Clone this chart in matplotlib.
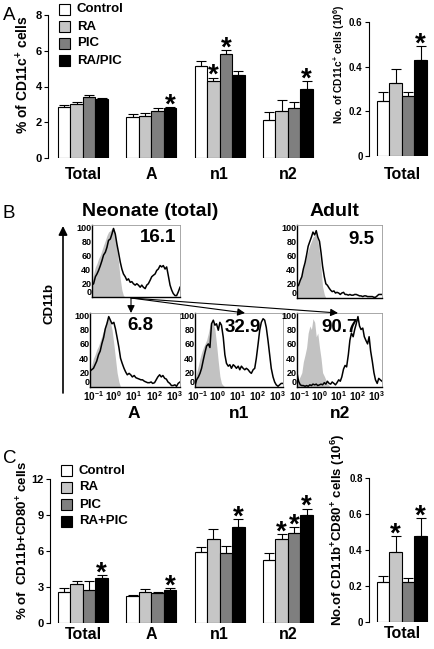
import matplotlib
matplotlib.use('Agg')
import matplotlib.pyplot as plt
from matplotlib.patches import Rectangle, FancyArrowPatch
import numpy as np

W, H = 435, 649
plt.rcParams['font.family'] = ['Liberation Sans', 'DejaVu Sans']
plt.rcParams['font.weight'] = 'bold'
plt.rcParams['mathtext.fontset'] = 'custom'
for k in ('rm', 'it', 'bf', 'sf'):
    plt.rcParams['mathtext.' + k] = 'Liberation Sans:bold'
plt.rcParams['axes.linewidth'] = 0.8

# ---------------- data ----------------
groups = ['Total', 'A', 'n1', 'n2']
treat_A = ['Control', 'RA', 'PIC', 'RA/PIC']
treat_C = ['Control', 'RA', 'PIC', 'RA+PIC']
bar_colors = ['#ffffff', '#c6c6c6', '#7f7f7f', '#000000']

# Panel A (left): % of CD11c+ cells
a_control = [2.88, 2.29, 5.12, 2.14]
a_ra = [3.03, 2.36, 4.28, 2.64]
a_pic = [3.44, 2.64, 5.80, 2.79]
a_rapic = [3.29, 2.79, 4.65, 3.85]
a_control_err = [0.10, 0.17, 0.28, 0.45]
a_ra_err = [0.10, 0.15, 0.22, 0.62]
a_pic_err = [0.09, 0.15, 0.25, 0.37]
a_rapic_err = [0.06, 0.06, 0.22, 0.48]
a_sig = [(1, 3), (2, 1), (2, 2), (3, 3)]   # (group, treatment)

# Panel A (right): No. of CD11c+ cells (10^6)
a_num = [0.245, 0.327, 0.268, 0.43]
a_num_err = [0.041, 0.061, 0.017, 0.063]
a_num_sig = [3]

# Panel C (left): % of CD11b+CD80+ cells
c_control = [2.58, 2.26, 5.89, 5.25]
c_ra = [3.28, 2.60, 7.00, 7.00]
c_pic = [2.72, 2.54, 5.80, 7.48]
c_rapic = [3.75, 2.79, 8.04, 8.99]
c_control_err = [0.34, 0.11, 0.47, 0.55]
c_ra_err = [0.20, 0.20, 0.80, 0.42]
c_pic_err = [0.80, 0.06, 0.62, 0.50]
c_rapic_err = [0.28, 0.14, 0.61, 0.55]
c_sig = [(0, 3), (1, 3), (2, 3), (3, 1), (3, 2), (3, 3)]

# Panel C (right): No. of CD11b+CD80+ cells (10^6)
c_num = [0.225, 0.39, 0.22, 0.477]
c_num_err = [0.031, 0.087, 0.023, 0.103]
c_num_sig = [1, 3]

# Panel B: CD11b histograms (x = log10 fluorescence, y = % of max)
hist_x = [-1.15, -1.07, -0.98, -0.90, -0.82, -0.73, -0.65, -0.57, -0.48, -0.40,
          -0.32, -0.23, -0.15, -0.07, 0.02, 0.10, 0.18, 0.27, 0.35, 0.43,
          0.52, 0.60, 0.68, 0.77, 0.85, 0.93, 1.02, 1.10, 1.18, 1.27,
          1.35, 1.43, 1.52, 1.60, 1.68, 1.77, 1.85, 1.93, 2.02, 2.10,
          2.18, 2.27, 2.35, 2.43, 2.52, 2.60, 2.68, 2.77, 2.85, 2.93,
          3.02, 3.10, 3.18, 3.27]
tick_decades = [-1, 0, 1, 2, 3]

neo_total = [17, 19, 29, 33, 38, 45, 52, 60, 64, 71, 81, 83, 90, 98, 90, 76, 64, 50, 40, 33,
             29, 24, 26, 21, 22, 19, 17, 19, 17, 14, 17, 14, 12, 17, 19, 24, 29, 31, 33, 38,
             40, 45, 43, 45, 40, 43, 31, 17, 10, 5, 2, 2, 7, 14]
neo_total_iso = [21, 33, 43, 48, 55, 60, 67, 74, 81, 88, 93, 95, 98, 100, 90, 69, 50, 26, 10, 2, 0]

adult = [16, 18, 25, 30, 41, 50, 61, 73, 80, 86, 93, 89, 95, 86, 80, 64, 45, 30, 20, 18,
         14, 11, 9, 10, 7, 8, 7, 5, 7, 8, 5, 5, 4, 5, 4, 4, 5, 5, 4, 3,
         3, 2, 3, 3, 2, 2, 2, 2, 1, 1, 3, 5, 5, 5]
adult_iso = [16, 20, 25, 33, 41, 50, 59, 67, 75, 80, 86, 88, 91, 82, 64, 41, 16, 5, 0]

neo_A = [22, 24, 26, 31, 36, 45, 50, 60, 69, 81, 88, 98, 93, 88, 90, 81, 69, 55, 40, 33,
         26, 21, 17, 19, 17, 14, 16, 13, 12, 11, 10, 10, 8, 7, 6, 6, 7, 5, 6, 10,
         14, 17, 14, 16, 12, 11, 7, 5, 2, 2, 3, 1, 5, 7]
neo_A_iso = [23, 30, 40, 45, 52, 57, 64, 71, 79, 86, 93, 95, 90, 80, 60, 40, 20, 7, 0]

neo_n1 = [2, 10, 14, 19, 26, 38, 48, 57, 60, 55, 88, 93, 86, 88, 79, 90, 86, 69, 45, 33,
          29, 31, 26, 31, 29, 26, 29, 24, 29, 26, 24, 26, 24, 21, 19, 24, 26, 40, 60, 79,
          90, 95, 93, 83, 64, 45, 26, 14, 7, 3, 1, 3, 5, 5]
neo_n1_iso = [10, 20, 30, 40, 48, 55, 60, 65, 75, 86, 90, 88, 80, 60, 35, 15, 5, 2, 0]

neo_n2 = [20, 8, 3, 2, 2, 1, 2, 1, 3, 2, 4, 3, 4, 2, 3, 4, 3, 6, 4, 8,
          5, 4, 7, 5, 3, 6, 10, 8, 14, 25, 30, 28, 45, 65, 75, 70, 80, 88, 98, 85,
          80, 82, 70, 65, 60, 70, 50, 35, 20, 10, 5, 12, 10, 8]
neo_n2_iso = [5, 10, 15, 20, 35, 45, 55, 75, 85, 80, 95, 90, 70, 75, 55, 40, 20, 15, 10, 5, 2, 0]

hist_pct = ['16.1', '9.5', '6.8', '32.9', '90.7']
hist_titles = ['Neonate (total)', 'Adult']
hist_sub = ['A', 'n1', 'n2']

# ---------------- figure ----------------
fig = plt.figure(figsize=(W / 100, H / 100), dpi=100)
STAR_OFF = -4


def px_axes(x0, y0, x1, y1):
    return fig.add_axes([x0 / W, 1 - y1 / H, (x1 - x0) / W, (y1 - y0) / H])


def style_bar_axes(ax, ylim, yticks, yticklabels, tsize):
    for s in ('top', 'right', 'bottom'):
        ax.spines[s].set_visible(False)
    ax.set_ylim(*ylim)
    ax.set_yticks(yticks)
    ax.set_yticklabels(yticklabels, fontsize=tsize, fontweight='bold')
    ax.tick_params(axis='y', length=3, width=0.8, pad=1.5)
    ax.patch.set_alpha(0)


def grouped(ax, series, errors, sig, xlim, label_pad):
    n = len(groups)
    w = 0.183
    centers = np.arange(n)
    for k, (vals, errs) in enumerate(zip(series, errors)):
        xs = centers + (k - 1.5) * w
        ax.bar(xs, vals, w, color=bar_colors[k], edgecolor='black', linewidth=0.8, zorder=2)
        ax.errorbar(xs, vals, yerr=[np.zeros(n), errs], fmt='none', ecolor='black',
                    elinewidth=0.8, capsize=3.3, capthick=0.8, zorder=3)
    for g, k in sig:
        x = centers[g] + (k - 1.5) * w
        y = series[k][g] + errors[k][g]
        ax.annotate('*', (x, y), xytext=(0, STAR_OFF), textcoords='offset points',
                    ha='center', va='baseline', fontsize=20, fontweight='bold')
    ax.set_xlim(*xlim)
    ax.set_xticks(centers)
    ax.set_xticklabels(groups, fontsize=11.5, fontweight='bold')
    ax.tick_params(axis='x', length=0, pad=label_pad)


def single(ax, vals, errs, sig, label_pad):
    xs = np.arange(len(vals))
    for k in range(len(vals)):
        ax.bar(xs[k], vals[k], 1.0, color=bar_colors[k], edgecolor='black', linewidth=0.8, zorder=2)
    ax.errorbar(xs, vals, yerr=[np.zeros(len(vals)), errs], fmt='none', ecolor='black',
                elinewidth=0.8, capsize=3.3, capthick=0.8, zorder=3)
    for k in sig:
        ax.annotate('*', (xs[k], vals[k] + errs[k]), xytext=(0, STAR_OFF), textcoords='offset points',
                    ha='center', va='baseline', fontsize=20, fontweight='bold')
    ax.set_xlim(-1.14, 3.9)
    ax.set_xticks([1.5])
    ax.set_xticklabels(['Total'], fontsize=11.5, fontweight='bold')
    ax.tick_params(axis='x', length=0, pad=label_pad)


# ---- Panel A ----
axA = px_axes(48, 15, 320, 158)
grouped(axA, [a_control, a_ra, a_pic, a_rapic],
        [a_control_err, a_ra_err, a_pic_err, a_rapic_err], a_sig, (-0.512, 3.47), 6.5)
style_bar_axes(axA, (0, 8), [0, 2, 4, 6, 8], ['0', '2', '4', '6', '8'], 8)

axA2 = px_axes(369, 22, 432, 156)
single(axA2, a_num, a_num_err, a_num_sig, 8)
style_bar_axes(axA2, (0, 0.6), [0, 0.2, 0.4, 0.6], ['0', '0.2', '0.4', '0.6'], 7)

# ---- Panel C ----
axC = px_axes(50, 479, 320, 623)
grouped(axC, [c_control, c_ra, c_pic, c_rapic],
        [c_control_err, c_ra_err, c_pic_err, c_rapic_err], c_sig, (-0.483, 3.47), 3)
style_bar_axes(axC, (0, 12), [0, 3, 6, 9, 12], ['0', '3', '6', '9', '12'], 8)

axC2 = px_axes(369, 478, 432, 622)
single(axC2, c_num, c_num_err, c_num_sig, 3)
style_bar_axes(axC2, (0, 0.8), [0, 0.2, 0.4, 0.6, 0.8], ['0', '0.2', '0.4', '0.6', '0.8'], 7)


# ---- Panel B histograms ----
def hist_panel(box, black, grey, xlabels):
    ax = px_axes(*box)
    ax.fill_between(hist_x[:len(grey)], grey, 0, color='#c2c2c2', lw=0, zorder=1)
    ax.plot(hist_x, black, color='black', lw=1.1, zorder=2)
    ax.set_xlim(-1.15, 3.27)
    ax.set_ylim(0, 103)
    ax.set_yticks([0, 20, 40, 60, 80, 100])
    ax.set_yticklabels(['0', '20', '40', '60', '80', '100'], fontsize=6.5, fontweight='bold')
    ax.tick_params(axis='y', length=0, pad=0.5)
    for lbl in ax.get_yticklabels():
        if lbl.get_text() == '0':
            lbl.set_verticalalignment('bottom')
    if xlabels:
        ax.set_xticks(tick_decades)
        ax.set_xticklabels([r'$10^{%d}$' % d for d in tick_decades], fontsize=7.2)
        ax.tick_params(axis='x', length=0, pad=1.5)
    else:
        ax.set_xticks([])
    for s in ('left', 'bottom'):
        ax.spines[s].set_linewidth(1.0)
    for s in ('top', 'right'):
        ax.spines[s].set_linewidth(0.6)
        ax.spines[s].set_color('#9a9a9a')
    return ax


hist_panel((92, 225, 180, 297), neo_total, neo_total_iso, False)
hist_panel((297, 225, 382, 298), adult, adult_iso, False)
hist_panel((90, 313, 180, 387), neo_A, neo_A_iso, True)
hist_panel((195, 313, 283, 387), neo_n1, neo_n1_iso, True)
hist_panel((297, 313, 382, 387), neo_n2, neo_n2_iso, True)

# ---------------- overlay (pixel coordinates) ----------------
ov = fig.add_axes([0, 0, 1, 1])
ov.set_xlim(0, W)
ov.set_ylim(H, 0)
ov.axis('off')

# panel letters
for lab, (x, y) in zip(['A', 'B', 'C'], [(3, 20), (3, 218), (3, 463)]):
    ov.text(x, y, lab, fontsize=13.5, fontweight='normal', ha='left', va='baseline')

# legends
for i, (lab, yc) in enumerate(zip(treat_A, [9.5, 26.5, 43.5, 60.5])):
    ov.add_patch(Rectangle((59, yc - 5.5), 11, 11, fc=bar_colors[i], ec='black', lw=0.8))
    ov.text(77, yc, lab, fontsize=9.5, fontweight='bold', ha='left', va='center')
for i, (lab, yc) in enumerate(zip(treat_C, [470.5, 487.5, 504.5, 521.5])):
    ov.add_patch(Rectangle((61, yc - 5.5), 11, 11, fc=bar_colors[i], ec='black', lw=0.8))
    ov.text(79, yc, lab, fontsize=9.5, fontweight='bold', ha='left', va='center')

# y labels
ov.text(23, 75, r'% of CD11c$^{+}$ cells', rotation=90, fontsize=10, ha='center', va='center')
ov.text(339, 64, r'No. of CD11c$^{+}$ cells (10$^{6}$)', rotation=90, fontsize=7.3,
        ha='center', va='center')
ov.text(23, 540, r'% of  CD11b+CD80$^{+}$ cells', rotation=90, fontsize=9.5, ha='center', va='center')
ov.text(338, 530, r'No.of CD11b$^{+}$CD80$^{+}$ cells (10$^{6}$)', rotation=90, fontsize=9.5,
        ha='center', va='center')

# panel B texts
ov.text(150, 212, hist_titles[0], fontsize=14, ha='center', va='center')
ov.text(334, 212, hist_titles[1], fontsize=14, ha='center', va='center')
for t, (x, y) in zip(hist_pct, [(158, 238), (361, 240), (140, 326), (243, 328), (340, 328)]):
    ov.text(x, y, t, fontsize=13.5, ha='center', va='center')
for t, x in zip(hist_sub, [134, 239, 340]):
    ov.text(x, 414, t, fontsize=12.5, ha='center', va='center')
ov.text(50, 304, 'CD11b', rotation=90, fontsize=9.5, ha='center', va='center')

ov.add_patch(FancyArrowPatch((63, 393), (63, 226), arrowstyle='-|>', mutation_scale=13,
                             lw=1.2, color='black', shrinkA=0, shrinkB=0))
for tip in [(131, 313), (245, 313), (338, 313)]:
    ov.add_patch(FancyArrowPatch((131, 298), tip, arrowstyle='-|>', mutation_scale=11,
                                 lw=0.8, color='black', shrinkA=0, shrinkB=0))

fig.savefig('out.png', dpi=100)
